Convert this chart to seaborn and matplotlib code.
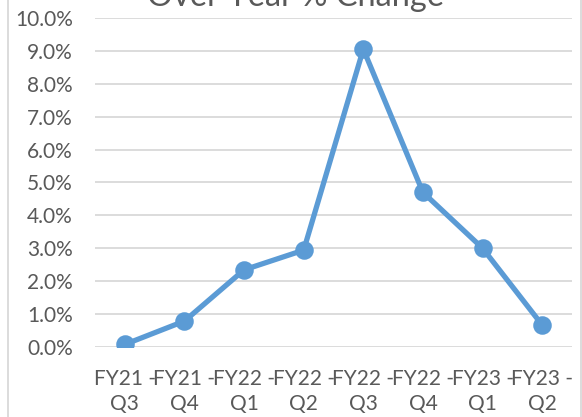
import numpy as np
import pandas as pd
import seaborn as sns
import matplotlib.pyplot as plt
from matplotlib.patches import Rectangle
from matplotlib.ticker import FuncFormatter

# values
quarters = ["FY21 -\nQ3", "FY21 -\nQ4", "FY22 -\nQ1", "FY22 -\nQ2",
            "FY22 -\nQ3", "FY22 -\nQ4", "FY23 -\nQ1", "FY23 -\nQ2"]
pct_change = [0.0007, 0.0078, 0.0234, 0.0294, 0.0906, 0.0470, 0.0300, 0.0066]
title = "Over Year % Change"

df = pd.DataFrame({"quarter": quarters, "change": pct_change})

sns.set_theme(style="white")
plt.rcParams["font.family"] = ["Lato", "DejaVu Sans"]

text_col = "#595959"
grid_col = "#D9D9D9"
line_col = "#5B9BD5"

fig = plt.figure(figsize=(5.82, 4.17), dpi=100)
ax = fig.add_axes([95 / 582, 1 - 346.7 / 417, 477 / 582, 328.4 / 417])

sns.pointplot(data=df, x="quarter", y="change", color=line_col, ax=ax,
              linewidth=3.8, markersize=10.5, errorbar=None)

ax.set_ylim(0, 0.10)
ax.set_xlim(-0.5, 7.5)
ax.set_yticks(np.arange(0, 0.101, 0.01))
ax.yaxis.set_major_formatter(FuncFormatter(lambda v, _: f"{v:.1%}"))
ax.grid(axis="y", color=grid_col, linewidth=1.3)
ax.set_axisbelow(True)
for s in ax.spines.values():
    s.set_visible(False)
ax.set_xlabel("")
ax.set_ylabel("")
ax.tick_params(axis="y", length=0, pad=16, labelsize=15, labelcolor=text_col)
ax.tick_params(axis="x", length=0, pad=16, labelsize=15, labelcolor=text_col)
for lab in ax.get_xticklabels():
    lab.set_linespacing(1.3)

# chart area border
fig.patches.append(Rectangle((8 / 582, -0.1), 573 / 582, 1.2, transform=fig.transFigure,
                             fill=False, edgecolor=grid_col, linewidth=1.3))

# title sits mostly above the visible area, as in the reference
fig.text(296 / 582, 1 - 6.5 / 417, title, ha="center", va="baseline",
         fontsize=23.5, color=text_col)

fig.savefig("out.png", dpi=100)
